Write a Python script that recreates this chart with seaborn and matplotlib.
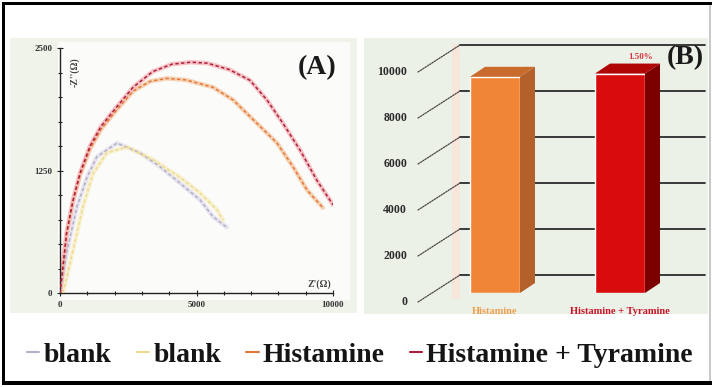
import numpy as np
import pandas as pd
import matplotlib
matplotlib.use("Agg")
import matplotlib.pyplot as plt
import matplotlib.transforms as mtransforms
from matplotlib.patches import Rectangle, Polygon, ConnectionPatch
from matplotlib.lines import Line2D
import seaborn as sns

# ---------------- data ----------------
# (A) Nyquist plots: Z' (ohm) vs -Z'' (ohm)
blank1_zre = [0, 240, 620, 990, 1350, 2090, 2930, 3660, 4400, 5130, 5600, 6110]
blank1_zim = [0, 410, 880, 1180, 1390, 1530, 1430, 1290, 1120, 950, 780, 670]

blank2_zre = [110, 480, 840, 1210, 1720, 2450, 3410, 4400, 5130, 5750, 5970]
blank2_zim = [0, 440, 880, 1220, 1430, 1490, 1360, 1180, 1020, 850, 745]

hist_zre = [0, 110, 240, 480, 730, 1100, 1500, 2080, 2680, 3300, 3900, 4600,
            5600, 6340, 7330, 7950, 8530, 9050, 9630]
hist_zim = [0, 270, 600, 940, 1200, 1470, 1670, 1870, 2060, 2160, 2190, 2175,
            2100, 1970, 1700, 1530, 1290, 1050, 870]

histtyr_zre = [0, 110, 240, 480, 730, 1100, 1500, 2080, 2680, 3400, 4100, 4800,
               5400, 6200, 6960, 7580, 8170, 8790, 9410, 10000]
histtyr_zim = [0, 270, 610, 950, 1220, 1500, 1700, 1900, 2100, 2260, 2335, 2355,
               2345, 2280, 2170, 1970, 1730, 1460, 1150, 900]

series_labels = ["blank", "blank", "Histamine", "Histamine + Tyramine"]

# (B) signal comparison
bar_categories = ["Histamine", "Histamine + Tyramine"]
bar_values = [9400, 9541]
bar_ticks = [0, 2000, 4000, 6000, 8000, 10000]

# ---------------- style ----------------
sns.set_theme(style="white")
plt.rcParams["font.family"] = ["Liberation Serif", "DejaVu Serif"]

W, H = 712, 387
fig = plt.figure(figsize=(W / 100, H / 100), dpi=100)
fig.patch.set_facecolor("white")


def fx(px):
    return px / W


def fy(py):
    return 1 - py / H


def frect(x0, y0, x1, y1, **kw):
    fig.patches.append(Rectangle((fx(x0), fy(y1)), fx(x1) - fx(x0), fy(y0) - fy(y1),
                                 transform=fig.transFigure, **kw))


# panel backgrounds (behind the axes)
frect(10, 38, 357, 313, facecolor="#eff3ea", edgecolor="none", zorder=-3)
frect(58, 42, 350, 300, facecolor="#fbfcf9", edgecolor="none", zorder=-2)
frect(364, 38, 708, 314, facecolor="#ecf1e8", edgecolor="none", zorder=-3)
frect(452, 44, 460, 298, facecolor="#f8e6da", edgecolor="none", zorder=-2)

# outer frame
frect(2, 2, 5, 385, facecolor="black", edgecolor="none", zorder=5)
frect(2, 2, 712, 5, facecolor="black", edgecolor="none", zorder=5)
frect(2, 381, 712, 385, facecolor="black", edgecolor="none", zorder=5)
frect(709, 5, 711, 381, facecolor="#c8c8c8", edgecolor="none", zorder=5)

# ---------------- panel A ----------------
axA = fig.add_axes([fx(60), fy(293), fx(333) - fx(60), fy(48) - fy(293)])
axA.set_facecolor("none")

curves = [
    (blank1_zre, blank1_zim, "#b4aec8", "#e4e0ee"),
    (blank2_zre, blank2_zim, "#eedb92", "#f8efc8"),
    (hist_zre, hist_zim, "#e0783a", "#f7c9a6"),
    (histtyr_zre, histtyr_zim, "#a8203c", "#f6b4b8"),
]
for (zr, zi, col, halo), lab in zip(curves, series_labels):
    df = pd.DataFrame({"zre": zr, "zim": zi})
    sns.lineplot(data=df, x="zre", y="zim", ax=axA, sort=False, color=halo,
                 lw=3.2, alpha=0.8, zorder=2)
    sns.lineplot(data=df, x="zre", y="zim", ax=axA, sort=False, color=col,
                 lw=1.1, linestyle=(0, (2.2, 1.6)), label=lab, zorder=3)

handles, labels = axA.get_legend_handles_labels()
if axA.get_legend() is not None:
    axA.get_legend().remove()

axA.set_xlim(0, 10000)
axA.set_ylim(0, 2500)
axA.set_xticks([0, 5000, 10000])
axA.set_xticks(np.arange(0, 10001, 1000), minor=True)
axA.set_yticks([0, 1250, 2500])
axA.set_yticks(np.arange(0, 2501, 250), minor=True)
axA.set_xlabel("")
axA.set_ylabel("")
for s in ["top", "right"]:
    axA.spines[s].set_visible(False)
for s in ["left", "bottom"]:
    axA.spines[s].set_color("#222222")
    axA.spines[s].set_linewidth(1.0)
axA.tick_params(which="both", direction="inout", color="#222222", width=0.8,
                left=True, bottom=True)
axA.tick_params(which="major", length=5, labelsize=6.5, pad=3)
axA.tick_params(which="minor", length=3)
for t in axA.get_xticklabels() + axA.get_yticklabels():
    t.set_fontweight("bold")
    t.set_color("#333333")

axA.text(0.055, 0.90, "-Z''(Ω)", transform=axA.transAxes, rotation=90,
         ha="center", va="center", fontsize=7, fontweight="bold", color="#444444")
axA.text(0.95, 0.035, "Z'(Ω)", transform=axA.transAxes, ha="center", va="center",
         fontsize=7, fontweight="bold", color="#444444")

fig.text(fx(317), fy(68), "(A)", ha="center", va="center", fontsize=20,
         fontweight="bold", color="#1a1a1a")

# ---------------- panel B ----------------
axB = fig.add_axes([fx(460), fy(293), fx(705) - fx(460), fy(38) - fy(293)])
axB.set_facecolor("none")

bar_front = ["#ef8535", "#d80c0c"]
bar_side = ["#b4602a", "#7c0000"]
bar_top = ["#c96b2c", "#b00606"]

dfB = pd.DataFrame({"cat": bar_categories, "val": bar_values})
sns.barplot(data=dfB, x="cat", y="val", hue="cat", palette=bar_front,
            saturation=1, width=0.4, ax=axB, legend=False, zorder=3)

axB.set_ylim(0, (293 - 38) / 0.023)
axB.set_xlim(-0.28, 1.68)

px_in = 1 / 100
blend = mtransforms.blended_transform_factory(axB.transAxes, axB.transData)
back_tr = blend + mtransforms.ScaledTranslation(0, 18 * px_in, fig.dpi_scale_trans)
front_tr = blend + mtransforms.ScaledTranslation(-42 * px_in, -9 * px_in, fig.dpi_scale_trans)

for v in bar_ticks:
    axB.plot([0, 1], [v, v], transform=back_tr, color="#2a2a2a", lw=1.3,
             zorder=1, clip_on=False)
    con = ConnectionPatch(xyA=(0, v), coordsA=front_tr, xyB=(0, v), coordsB=back_tr,
                          color="#444444", lw=0.9, linestyle=(0, (1.2, 1.0)), zorder=1)
    fig.add_artist(con)
    axB.text(0, v, f"{v}", transform=front_tr + mtransforms.ScaledTranslation(
        -11 * px_in, 0, fig.dpi_scale_trans), ha="right", va="center",
        fontsize=8.5, fontweight="bold", color="#2a2a2a")

# depth faces of the bars
dx, dy = 15, 10
ident = mtransforms.IdentityTransform()
for i, p in enumerate(axB.patches):
    x0, w, h = p.get_x(), p.get_width(), p.get_height()
    a = axB.transData.transform((x0 + w, 0))
    b = axB.transData.transform((x0 + w, h))
    c = axB.transData.transform((x0, h))
    side = [a, b, b + [dx, dy], a + [dx, dy]]
    top = [c, b, b + [dx, dy], c + [dx, dy]]
    fig.patches.append(Polygon(side, closed=True, transform=ident,
                               facecolor=bar_side[i], edgecolor="none", zorder=4))
    fig.patches.append(Polygon(top, closed=True, transform=ident,
                               facecolor=bar_top[i], edgecolor="none", zorder=4))

pct = (bar_values[1] / bar_values[0] - 1) * 100
axB.annotate(f"{pct:.2f}%", xy=(1, bar_values[1]), xytext=(15, 12),
             textcoords="offset points", ha="center", va="center",
             fontsize=6.5, fontweight="bold", color="#d8303a")

axB.set_xlabel("")
axB.set_ylabel("")
axB.set_yticks([])
for s in axB.spines.values():
    s.set_visible(False)
axB.tick_params(axis="x", length=0, pad=10, labelsize=7.5)
for t, col in zip(axB.get_xticklabels(), ["#eba050", "#c81428"]):
    t.set_color(col)
    t.set_fontweight("bold")

fig.text(fx(685), fy(58), "(B)", ha="center", va="center", fontsize=20,
         fontweight="bold", color="#1a1a1a")

# ---------------- legend ----------------
leg_handles = [Line2D([0], [0], color=h.get_color(), lw=1.5) for h in handles]
leg = fig.legend(leg_handles, labels, loc="center", bbox_to_anchor=(fx(360), fy(355)),
                 ncol=4, frameon=False, handlelength=0.45, handletextpad=0.15,
                 columnspacing=0.9, prop={"family": "Liberation Serif", "weight": "bold",
                                          "size": 20})
for t in leg.get_texts():
    t.set_color("#151515")

fig.savefig("out.png", dpi=100)
